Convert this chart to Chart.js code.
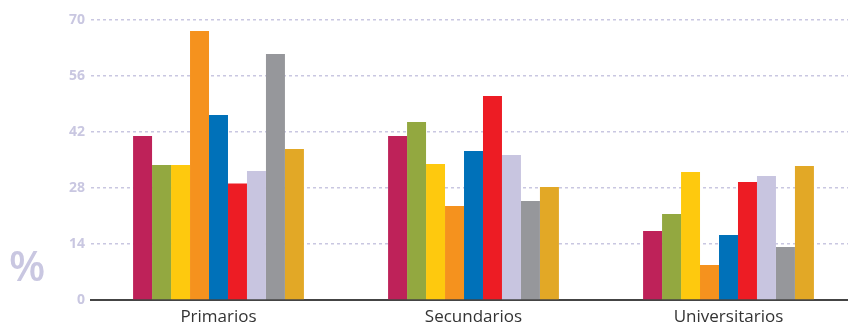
<!DOCTYPE html>
<html>
<head>
<meta charset="utf-8">
<script src="https://cdn.jsdelivr.net/npm/chart.js@4"></script>
<style>
  html, body { margin: 0; padding: 0; background: #fff; overflow: hidden; }
  #wrap { position: relative; width: 860px; height: 330px; }
  #pct { position: absolute; left: 9px; top: 244px; font: 600 42px "Open Sans", sans-serif; color: #c9c7e1; line-height: 1; }
</style>
</head>
<body>
<div id="wrap">
  <canvas id="myChart" width="860" height="330"></canvas>
  <div id="pct">%</div>
</div>
<script>
const categorias = ['Primarios', 'Secundarios', 'Universitarios'];
const serie1 = [41, 41, 17.25];
const serie2 = [33.75, 44.5, 21.5];
const serie3 = [33.75, 34, 32];
const serie4 = [67.25, 23.5, 8.75];
const serie5 = [46.25, 37.25, 16.25];
const serie6 = [29.1, 51, 29.5];
const serie7 = [32.25, 36.25, 31];
const serie8 = [61.5, 24.75, 13.25];
const serie9 = [37.75, 28.25, 33.5];
const colores = ['#be2259', '#93a840', '#fec90e', '#f5921e', '#0071b9', '#ed1c24', '#c8c5e0', '#96979b', '#e2a826'];

const series = [serie1, serie2, serie3, serie4, serie5, serie6, serie7, serie8, serie9];

const ctx = document.getElementById('myChart');
new Chart(ctx, {
  type: 'bar',
  data: {
    labels: categorias,
    datasets: series.map((s, i) => ({
      label: 'Serie ' + (i + 1),
      data: s,
      backgroundColor: colores[i],
      borderWidth: 0
    }))
  },
  options: {
    responsive: false,
    animation: false,
    categoryPercentage: 0.67,
    barPercentage: 1,
    layout: { padding: { top: 20, right: 4 } },
    plugins: { legend: { display: false }, tooltip: { enabled: false } },
    scales: {
      x: {
        grid: { display: false, drawTicks: false },
        border: { color: '#444', width: 2 },
        ticks: { color: '#333', font: { family: 'Open Sans', size: 17 }, padding: 7 },
        afterFit: s => { s.height = 30; }
      },
      y: {
        min: 0,
        max: 70,
        ticks: { stepSize: 14, color: '#c9c7e1', font: { family: 'Open Sans', size: 14, weight: 'bold' }, padding: 6 },
        grid: { color: '#c9c7e1', lineWidth: 1.5, drawTicks: false },
        border: { display: false, dash: [3, 3] },
        afterFit: s => { s.width = 91; }
      }
    }
  }
});
</script>
</body>
</html>
